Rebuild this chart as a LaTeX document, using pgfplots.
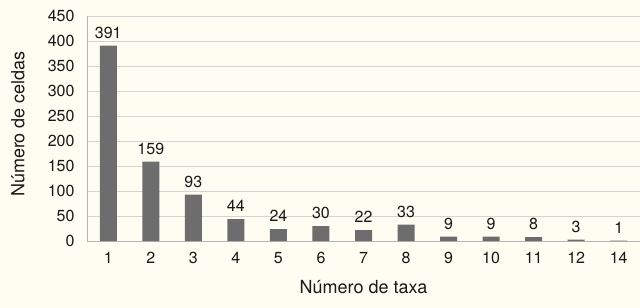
\documentclass[border=0pt]{standalone}
\usepackage{fontspec}
\setmainfont{TeX Gyre Heros}
\usepackage{pgfplots}
\pgfplotsset{compat=1.18}
\definecolor{bgc}{HTML}{FDFDF2}
\definecolor{barc}{HTML}{6D6D6D}
\definecolor{gridc}{HTML}{D4D4D4}
\definecolor{axc}{HTML}{B5B5B5}
\begin{document}
\begin{tikzpicture}
\fill[bgc] (-87bp,-67bp) rectangle (553bp,241bp);
\begin{axis}[
  at={(0,0)}, anchor=south west,
  scale only axis, width=553bp, height=225bp,
  xmin=-0.5, xmax=12.5, ymin=0, ymax=450,
  xtick={0,...,12},
  xticklabels={1,2,3,4,5,6,7,8,9,10,11,12,14},
  ytick={0,50,...,450},
  major tick length=0pt,
  axis x line*=bottom, axis y line*=left,
  axis line style={draw=axc, line width=0.9bp, -},
  ymajorgrids, grid style={draw=gridc, line width=0.8bp},
  /pgf/number format/assume math mode=true,
  tick label style={font=\fontsize{16bp}{18bp}\selectfont, text=black!90},
  xticklabel style={yshift=-7.5bp},
  yticklabel style={xshift=-9bp},
  xlabel={Número de taxa}, ylabel={Número de celdas},
  label style={font=\fontsize{18bp}{20bp}\selectfont, text=black!90},
  xlabel style={at={(axis description cs:0.5,-0.2044)}, anchor=center},
  ylabel style={at={(axis description cs:-0.1248,0.52)}, anchor=center},
  nodes near coords,
  every node near coord/.append style={font=\fontsize{16bp}{18bp}\selectfont, text=black!90, yshift=3.5bp},
  clip=false,
]
\addplot[ybar, bar width=17bp, fill=barc, draw=none] coordinates {
(0,391) (1,159) (2,93) (3,44) (4,24) (5,30) (6,22) (7,33) (8,9) (9,9) (10,8) (11,3) (12,1)};
\end{axis}
\pgfresetboundingbox
\path[use as bounding box] (-87bp,-67bp) rectangle (553bp,241bp);
\end{tikzpicture}
\end{document}
